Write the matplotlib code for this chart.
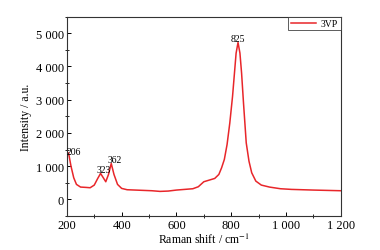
import matplotlib
matplotlib.use("Agg")
from matplotlib import pyplot as plt
from matplotlib.ticker import MultipleLocator, FuncFormatter
import numpy as np

plt.rcParams['font.family'] = ['Liberation Serif', 'DejaVu Serif']
plt.rcParams['mathtext.fontset'] = 'stix'

# Raman spectrum
shift = [200, 206, 215, 225, 235, 250, 270, 285, 300, 312, 323, 333, 342, 352, 362,
         372, 385, 400, 420, 450, 480, 510, 540, 570, 600, 630, 660, 680, 700, 720,
         740, 755, 765, 775, 785, 795, 805, 812, 818, 825, 832, 838, 845, 855, 865,
         875, 890, 910, 940, 980, 1020, 1060, 1100, 1150, 1200]
intensity = [1300, 1400, 1000, 650, 450, 370, 360, 350, 430, 620, 780, 650, 530, 750, 1080,
             750, 450, 330, 290, 280, 270, 260, 240, 250, 280, 300, 320, 380, 530, 580,
             630, 750, 950, 1200, 1650, 2300, 3100, 3800, 4400, 4720, 4400, 3800, 2900, 1700, 1150,
             800, 550, 430, 370, 320, 300, 290, 280, 270, 260]

peak_labels = ["206", "323", "362", "825"]
peak_pos = [(226, 1430), (336, 900), (375, 1200), (826, 4850)]

fig = plt.figure(figsize=(3.8, 2.51), dpi=100)
ax = fig.add_axes([0.176, 0.1355, 0.7206, 0.7945])

ax.plot(shift, intensity, color="#e8262a", lw=1.1, label="3VP")

for lab, (px, py) in zip(peak_labels, peak_pos):
    ax.text(px, py, lab, ha="center", va="center", fontsize=7)

ax.set_xlim(200, 1200)
ax.set_ylim(-500, 5500)
ax.xaxis.set_major_locator(MultipleLocator(200))
ax.xaxis.set_minor_locator(MultipleLocator(100))
ax.yaxis.set_major_locator(MultipleLocator(1000))
ax.yaxis.set_minor_locator(MultipleLocator(500))

fmt = FuncFormatter(lambda v, p: f"{int(v):,}".replace(",", " "))
ax.xaxis.set_major_formatter(fmt)
ax.yaxis.set_major_formatter(fmt)

ax.tick_params(which="major", direction="in", length=3, width=0.7, labelsize=9, pad=2)
ax.tick_params(which="minor", direction="inout", length=3, width=0.6)
for s in ax.spines.values():
    s.set_linewidth(0.8)
    s.set_color("#333333")

ax.set_xlabel("Raman shift / cm$^{-1}$", fontsize=8.5, labelpad=1)
ax.set_ylabel("Intensity / a.u.", fontsize=8.5, labelpad=3)

leg = ax.legend(loc="upper right", fontsize=7, frameon=True, fancybox=False,
                borderaxespad=0, handlelength=2.6, borderpad=0.25, handletextpad=0.5)
leg.get_frame().set_edgecolor("#333333")
leg.get_frame().set_linewidth(0.7)

fig.savefig("out.png", dpi=100)
